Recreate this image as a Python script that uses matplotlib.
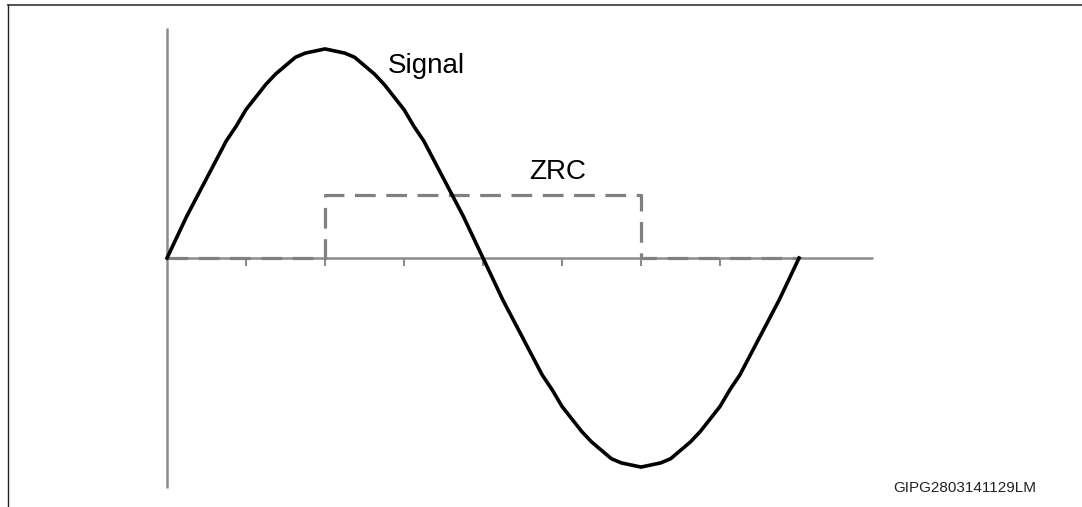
import matplotlib
matplotlib.use("Agg")
import matplotlib.pyplot as plt
from matplotlib.lines import Line2D

plt.rcParams['font.family'] = ['Liberation Sans', 'DejaVu Sans']

# signal, one point every eighth of a tick
signal_x = [i / 8 for i in range(65)]
signal_y = [0, 0.10, 0.20, 0.29, 0.38, 0.47, 0.56, 0.63, 0.71, 0.77, 0.83, 0.88, 0.92, 0.96, 0.98, 0.99,
            1.0,
            0.99, 0.98, 0.96, 0.92, 0.88, 0.83, 0.77, 0.71, 0.63, 0.56, 0.47, 0.38, 0.29, 0.20, 0.10,
            0,
            -0.10, -0.20, -0.29, -0.38, -0.47, -0.56, -0.63, -0.71, -0.77, -0.83, -0.88, -0.92, -0.96, -0.98, -0.99,
            -1.0,
            -0.99, -0.98, -0.96, -0.92, -0.88, -0.83, -0.77, -0.71, -0.63, -0.56, -0.47, -0.38, -0.29, -0.20, -0.10,
            0]

# zero-crossing comparator output
zrc_x = [0, 2, 2, 6, 6, 8]
zrc_y = [0, 0, 0.30, 0.30, 0, 0]

tick_pos = [1, 2, 3, 4, 5, 6, 7]

fig = plt.figure(figsize=(10.82, 5.07), dpi=100)
ax = fig.add_axes([0, 0, 1, 1])
ax.set_xlim(-2.114, 11.582)
ax.set_ylim(-1.191, 1.234)
ax.axis('off')

axis_col = '#8c8c8c'
# axes drawn by hand
ax.plot([0, 0], [-1.10, 1.10], color=axis_col, lw=1.8, solid_capstyle='butt')
ax.plot([0, 8.94], [0, 0], color=axis_col, lw=1.8, solid_capstyle='butt')
for t in tick_pos:
    ax.plot([t, t], [0, -0.04], color=axis_col, lw=1.5, solid_capstyle='butt')

ax.plot(zrc_x, zrc_y, color='#808080', lw=2.3, linestyle=(0, (6.5, 3.3)))
ax.plot(signal_x, signal_y, color='black', lw=2.6, solid_joinstyle='round')

ax.text(2.80, 0.885, 'Signal', fontsize=20, va='baseline', ha='left')
ax.text(4.58, 0.378, 'ZRC', fontsize=20, va='baseline', ha='left')
ax.text(9.19, -1.12, 'GIPG2803141129LM', fontsize=11, va='baseline', ha='left', color='#222222')

# outer frame (top and left edges visible)
fig.lines.append(Line2D([8 / 1082, 1], [1 - 5 / 507, 1 - 5 / 507], transform=fig.transFigure,
                        color='#444444', lw=1.3))
fig.lines.append(Line2D([8 / 1082, 8 / 1082], [0, 1 - 5 / 507], transform=fig.transFigure,
                        color='#222222', lw=1.0))

fig.savefig('out.png', dpi=100)
